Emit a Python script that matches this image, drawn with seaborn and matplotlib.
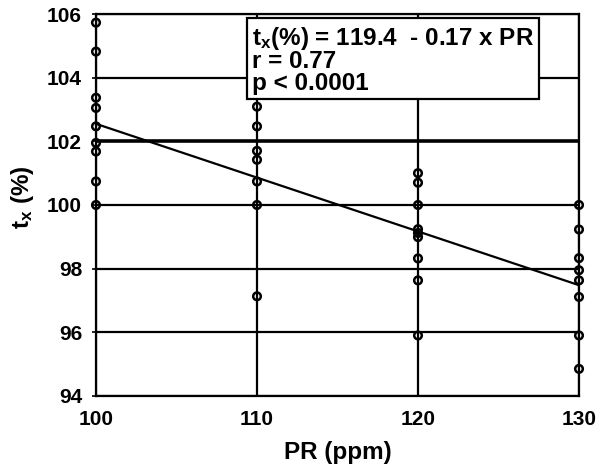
import matplotlib
matplotlib.use("Agg")
import matplotlib.pyplot as plt
import seaborn as sns
import pandas as pd

# ---- data ----
PR_100 = [105.73, 104.82, 103.37, 103.05, 102.47, 101.95, 101.68, 100.74, 100.0]
PR_110 = [103.09, 102.47, 101.70, 101.42, 100.74, 100.0, 97.13]
PR_120 = [101.0, 100.70, 100.0, 99.24, 99.12, 98.99, 98.32, 97.63, 95.90]
PR_130 = [100.0, 99.23, 98.33, 97.95, 97.63, 97.11, 95.90, 94.85]
PR_LEVELS = [100, 110, 120, 130]
FIT_X = [100, 130]
FIT_Y = [102.55, 97.48]
X_TICKS = [100, 110, 120, 130]
Y_TICKS = [94, 96, 98, 100, 102, 104, 106]
EQ_TEXT = "t$_{\\mathregular{x}}$(%) = 119.4  - 0.17 x PR\nr = 0.77\np < 0.0001"

rows = []
for lvl, vals in zip(PR_LEVELS, [PR_100, PR_110, PR_120, PR_130]):
    for v in vals:
        rows.append({"PR": lvl, "tx": v})
df = pd.DataFrame(rows)
fit = pd.DataFrame({"PR": FIT_X, "tx": FIT_Y})

sns.set_style("white")
plt.rcParams["font.family"] = ["Liberation Sans", "DejaVu Sans"]
plt.rcParams["font.weight"] = "bold"
plt.rcParams["mathtext.fontset"] = "custom"
plt.rcParams["mathtext.rm"] = "Liberation Sans:bold"
plt.rcParams["mathtext.bf"] = "Liberation Sans:bold"
plt.rcParams["mathtext.default"] = "regular"
for key in ["text.color", "axes.labelcolor", "xtick.color", "ytick.color"]:
    plt.rcParams[key] = "black"

fig = plt.figure(figsize=(6, 4.68), dpi=100)
ax = fig.add_axes([0.16, 0.154, 0.805, 0.816])

sns.scatterplot(data=df, x="PR", y="tx", ax=ax, marker="o", s=30,
                facecolor="none", edgecolor="black", linewidth=1.8,
                zorder=5, clip_on=False)
sns.lineplot(data=fit, x="PR", y="tx", ax=ax, color="black", linewidth=1.6, zorder=4)

ax.set_xlim(100, 130)
ax.set_ylim(94, 106)
ax.set_xticks(X_TICKS)
ax.set_yticks(Y_TICKS)
ax.grid(True, color="black", linewidth=1.6)
ax.set_axisbelow(True)
for gl, t in zip(ax.get_ygridlines(), Y_TICKS):
    if t == 102:
        gl.set_linewidth(2.6)

for s in ax.spines.values():
    s.set_color("black")
    s.set_linewidth(1.6)

ax.tick_params(axis="both", labelsize=15, length=3, width=1.2, pad=7,
               colors="black", left=True, bottom=False)
for lab in ax.get_xticklabels() + ax.get_yticklabels():
    lab.set_fontweight("bold")

ax.set_xlabel("PR (ppm)", fontsize=17.5, fontweight="bold", labelpad=9)
ax.set_ylabel("t$_{\\mathregular{x}}$ (%)", fontsize=17.5, fontweight="bold")
ax.yaxis.set_label_coords(-0.125, 0.52)

ax.text(0.323, 0.971, EQ_TEXT, transform=ax.transAxes, fontsize=17.5,
        fontweight="bold", va="top", ha="left", linespacing=0.9, zorder=6,
        color="black",
        bbox=dict(boxstyle="square,pad=0.2", facecolor="white",
                  edgecolor="black", linewidth=1.6))

fig.savefig("out.png", dpi=100)
